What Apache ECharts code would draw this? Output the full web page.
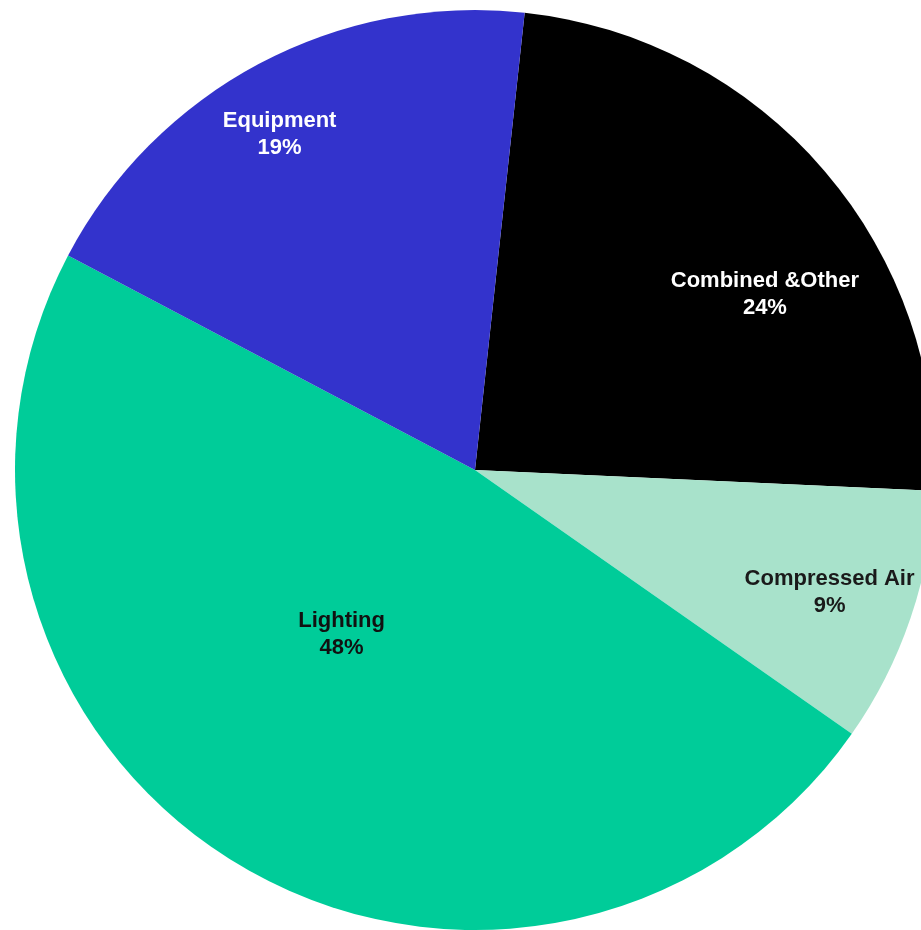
<!DOCTYPE html>
<html>
<head>
<meta charset="utf-8">
<style>
  html, body { margin: 0; padding: 0; background: #ffffff; }
  #chart { width: 921px; height: 930px; }
</style>
<script src="https://cdn.jsdelivr.net/npm/echarts@6/dist/echarts.min.js"></script>
</head>
<body>
<div id="chart"></div>
<script>
// Energy use breakdown, clockwise from the top
const categories = ['Combined &Other', 'Compressed Air', 'Lighting', 'Equipment'];
const shares = [24, 9, 48, 19];
const sliceColors = ['#000000', '#a8e2cb', '#00cc99', '#3333cc'];
const labelColors = ['#ffffff', '#1a1a1a', '#111111', '#ffffff'];
// nudge each label away from the slice's mid-radius point
const labelOffsets = [[113, -24], [134, 47], [-12, -34], [-86, -130]];

const chart = echarts.init(document.getElementById('chart'), null, { renderer: 'canvas' });

const data = categories.map((name, i) => ({
  name: name,
  value: shares[i],
  itemStyle: { color: sliceColors[i] },
  label: { color: labelColors[i], offset: labelOffsets[i] }
}));

chart.setOption({
  animation: false,
  backgroundColor: '#ffffff',
  series: [{
    type: 'pie',
    center: [475, 470],
    radius: [0, 460],
    startAngle: 83.8,
    clockwise: true,
    avoidLabelOverlap: false,
    itemStyle: { borderWidth: 0 },
    label: {
      show: true,
      position: 'inside',
      fontFamily: 'Liberation Sans, Arial, sans-serif',
      fontSize: 22,
      fontWeight: 'bold',
      lineHeight: 27,
      align: 'center',
      formatter: p => p.name + '\n' + p.value + '%'
    },
    labelLine: { show: false },
    emphasis: { disabled: true },
    data: data
  }]
});
</script>
</body>
</html>
